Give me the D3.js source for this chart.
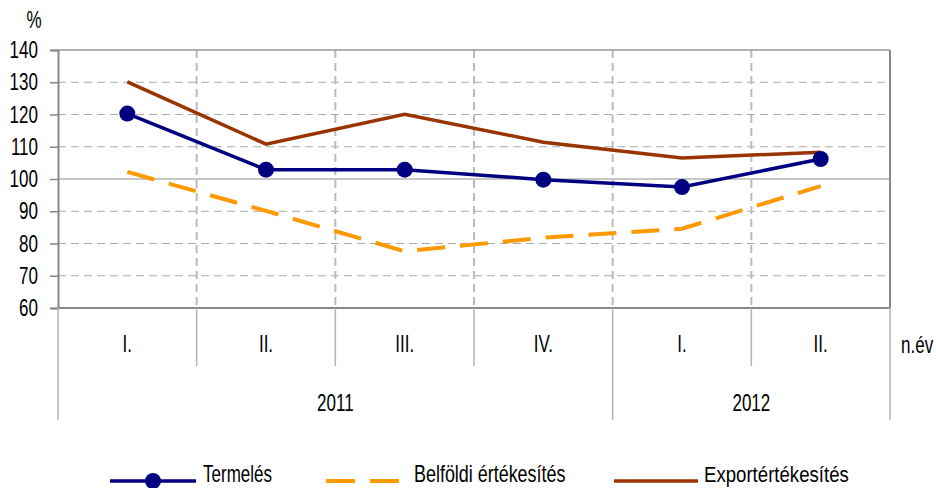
<!DOCTYPE html>
<html>
<head>
<meta charset="utf-8">
<script src="https://cdn.jsdelivr.net/npm/d3@7"></script>
<style>
  body { margin: 0; background: #fff; }
  text { font-family: "Liberation Sans", Arial, sans-serif; font-size: 23px; fill: #000; }
</style>
</head>
<body>
<script>
// adatok
const quarters = ['I.', 'II.', 'III.', 'IV.', 'I.', 'II.'];
const yearLabels = ['2011', '2012'];
const yearSpans = [4, 2];
const termeles = [120.3, 102.9, 102.9, 99.8, 97.5, 106.2];
const belfoldi = [102.2, 90.1, 77.6, 81.8, 84.6, 97.8];
const exportErt = [130.1, 110.8, 120.1, 111.4, 106.5, 108.3];
const yTicks = [60, 70, 80, 90, 100, 110, 120, 130, 140];

const width = 936, height = 488;
const plotL = 58, plotR = 890, plotT = 50, plotB = 308;
const squeeze = 0.74; // keskeny betű utánzása

const svg = d3.select('body').append('svg')
    .attr('width', width)
    .attr('height', height);

// szöveg vízszintesen összenyomva
function label(parent, px, py, str, anchor, sx) {
    return parent.append('text')
        .attr('transform', `translate(${px},${py}) scale(${sx || squeeze},1)`)
        .attr('text-anchor', anchor || 'start')
        .text(str);
}

const x = d3.scaleBand()
    .domain(d3.range(quarters.length))
    .range([plotL, plotR])
    .padding(0);

const y = d3.scaleLinear()
    .domain([60, 140])
    .range([plotB, plotT]);

const cx = i => x(i) + x.bandwidth() / 2;

// vízszintes rácsvonalak
svg.append('g').selectAll('line')
    .data(yTicks.filter(t => t !== 60 && t !== 140 && t !== 100))
    .join('line')
    .attr('x1', plotL).attr('x2', plotR)
    .attr('y1', d => y(d)).attr('y2', d => y(d))
    .attr('stroke', '#aaa')
    .attr('stroke-width', 1)
    .attr('stroke-dasharray', '8,5');

// függőleges rácsvonalak
svg.append('g').selectAll('line')
    .data(d3.range(1, quarters.length))
    .join('line')
    .attr('x1', d => x(d)).attr('x2', d => x(d))
    .attr('y1', plotT).attr('y2', plotB)
    .attr('stroke', '#bbb')
    .attr('stroke-width', 2)
    .attr('stroke-dasharray', '8,5');

// 100-as vonal
svg.append('line')
    .attr('x1', plotL).attr('x2', plotR)
    .attr('y1', y(100)).attr('y2', y(100))
    .attr('stroke', '#b4b4b4')
    .attr('stroke-width', 1.5);

// keret
svg.append('line').attr('x1', plotL).attr('x2', plotR).attr('y1', plotT).attr('y2', plotT)
    .attr('stroke', '#999').attr('stroke-width', 1.5);
svg.append('line').attr('x1', plotR).attr('x2', plotR).attr('y1', plotT).attr('y2', plotB)
    .attr('stroke', '#888').attr('stroke-width', 2);
svg.append('line').attr('x1', plotL).attr('x2', plotR).attr('y1', plotB).attr('y2', plotB)
    .attr('stroke', '#888').attr('stroke-width', 2);

// y tengely (feliratok külön)
const yAxis = svg.append('g')
    .attr('transform', `translate(${plotL},0)`)
    .call(d3.axisLeft(y).tickValues(yTicks).tickSize(8).tickFormat(''));
yAxis.select('.domain').attr('stroke', '#888').attr('stroke-width', 2);
yAxis.selectAll('.tick line').attr('stroke', '#888').attr('stroke-width', 1.5);

const yLabels = svg.append('g');
yTicks.forEach(t => label(yLabels, 38, y(t) + 8, t, 'end'));

label(svg, 34, 28, '%', 'middle');

// kategória tengely
svg.append('g').selectAll('line')
    .data(d3.range(1, quarters.length).filter(i => i !== yearSpans[0]))
    .join('line')
    .attr('x1', d => x(d)).attr('x2', d => x(d))
    .attr('y1', plotB).attr('y2', 366)
    .attr('stroke', '#b4b4b4')
    .attr('stroke-width', 1.5);

const yearBounds = [0];
yearSpans.forEach((s, i) => yearBounds.push(yearBounds[i] + s));
const boundX = b => b < quarters.length ? x(b) : plotR;
svg.append('g').selectAll('line')
    .data(yearBounds)
    .join('line')
    .attr('x1', boundX).attr('x2', boundX)
    .attr('y1', plotB).attr('y2', 420)
    .attr('stroke', '#b4b4b4')
    .attr('stroke-width', 1.5);

const qLabels = svg.append('g');
quarters.forEach((q, i) => label(qLabels, cx(i), 352, q, 'middle'));

const yrLabels = svg.append('g');
yearLabels.forEach((yr, i) =>
    label(yrLabels, (boundX(yearBounds[i]) + boundX(yearBounds[i + 1])) / 2, 411, yr, 'middle'));

label(svg, 901, 353, 'n.év');

// vonalak
const line = d3.line().x((d, i) => cx(i)).y(d => y(d));

svg.append('path')
    .attr('d', line(belfoldi))
    .attr('fill', 'none')
    .attr('stroke', '#ff9900')
    .attr('stroke-width', 4)
    .attr('stroke-dasharray', '28,15');

svg.append('path')
    .attr('d', line(exportErt))
    .attr('fill', 'none')
    .attr('stroke', '#993300')
    .attr('stroke-width', 3.5);

svg.append('path')
    .attr('d', line(termeles))
    .attr('fill', 'none')
    .attr('stroke', '#000080')
    .attr('stroke-width', 3.5);

svg.append('g').selectAll('circle')
    .data(termeles)
    .join('circle')
    .attr('cx', (d, i) => cx(i))
    .attr('cy', d => y(d))
    .attr('r', 8)
    .attr('fill', '#000080');

// jelmagyarázat
const ly = 481;
svg.append('line').attr('x1', 110).attr('x2', 196).attr('y1', ly).attr('y2', ly)
    .attr('stroke', '#000080').attr('stroke-width', 3.5);
svg.append('circle').attr('cx', 153).attr('cy', ly).attr('r', 8).attr('fill', '#000080');
label(svg, 203, 482, 'Termelés', 'start', 0.74);

svg.append('line').attr('x1', 326).attr('x2', 400).attr('y1', ly).attr('y2', ly)
    .attr('stroke', '#ff9900').attr('stroke-width', 4).attr('stroke-dasharray', '29,15');
label(svg, 414, 482, 'Belföldi értékesítés', 'start', 0.78);

svg.append('line').attr('x1', 614).attr('x2', 698).attr('y1', ly).attr('y2', ly)
    .attr('stroke', '#993300').attr('stroke-width', 3.5);
label(svg, 704, 482, 'Exportértékesítés', 'start', 0.81);
</script>
</body>
</html>
